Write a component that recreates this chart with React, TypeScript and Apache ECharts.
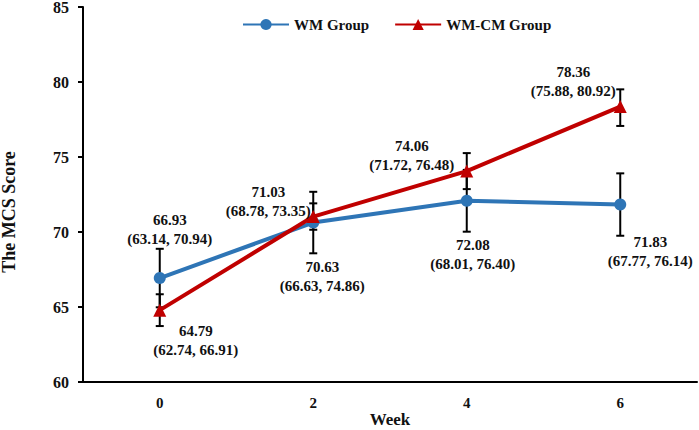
import React, { useEffect, useRef } from "react";
import * as echarts from "echarts";

const weeks = ["0", "2", "4", "6"];
const wmMean = [66.93, 70.63, 72.08, 71.83];
const wmCiLow = [63.14, 66.63, 68.01, 67.77];
const wmCiHigh = [70.94, 74.86, 76.4, 76.14];
const cmMean = [64.79, 71.03, 74.06, 78.36];
const cmCiLow = [62.74, 68.78, 71.72, 75.88];
const cmCiHigh = [66.91, 73.35, 76.48, 80.92];
// error bars as drawn
const wmBarLow = [64.98, 68.58, 70.02, 69.75];
const wmBarHigh = [68.88, 72.68, 74.14, 73.91];
const cmBarLow = [63.73, 70.15, 72.86, 77.07];
const cmBarHigh = [65.85, 71.91, 75.26, 79.51];
const yTicks = { min: 60, max: 85, interval: 5 };

// label placement (layout, not data)
const wmLabelOffsets = [[10, -49], [9, 54], [6, 54], [30, 47]];
const cmLabelOffsets = [[36, 30], [-45, -15], [-55, -16], [-47, -25]];

const FONT = '"Liberation Serif", "Times New Roman", serif';
const BLUE = "#2E75B6";
const RED = "#C00000";

const labelBase = {
  show: true,
  position: "inside",
  color: "#111",
  fontFamily: FONT,
  fontWeight: "bold",
  fontSize: 15,
  lineHeight: 19,
  align: "center",
  verticalAlign: "middle",
  textBorderWidth: 0,
};

function makeData(mean: number[], lo: number[], hi: number[], offs: number[][]) {
  return mean.map((m, i) => ({
    value: m,
    label: {
      ...labelBase,
      offset: offs[i],
      formatter: `${m.toFixed(2)}\n(${lo[i].toFixed(2)}, ${hi[i].toFixed(2)})`,
    },
  }));
}

function errorSeries(lo: number[], hi: number[]) {
  return {
    type: "custom",
    z: 1,
    silent: true,
    data: lo.map((l, i) => [i, l, hi[i]]),
    encode: { x: 0, y: [1, 2] },
    renderItem: (params: any, api: any) => {
      const x = api.value(0);
      const p1 = api.coord([x, api.value(1)]);
      const p2 = api.coord([x, api.value(2)]);
      const w = 4;
      const style = { stroke: "#000", lineWidth: 2 };
      return {
        type: "group",
        children: [
          { type: "line", shape: { x1: p1[0], y1: p1[1], x2: p2[0], y2: p2[1] }, style },
          { type: "line", shape: { x1: p1[0] - w, y1: p1[1], x2: p1[0] + w, y2: p1[1] }, style },
          { type: "line", shape: { x1: p2[0] - w, y1: p2[1], x2: p2[0] + w, y2: p2[1] }, style },
        ],
      };
    },
  };
}

export default function App() {
  const ref = useRef<HTMLDivElement>(null);
  useEffect(() => {
    if (!ref.current) return;
    const chart = echarts.init(ref.current, undefined, { renderer: "svg" });
    chart.setOption({
      animation: false,
      backgroundColor: "#fff",
      grid: { left: 83, right: 2, top: 7, bottom: 48, containLabel: false, outerBoundsMode: "none" },
      legend: {
        data: ["WM Group", "WM-CM Group"],
        left: 237,
        top: 12,
        itemWidth: 46,
        itemHeight: 14,
        itemGap: 25,
        textStyle: { fontFamily: FONT, fontWeight: "bold", fontSize: 15, color: "#111" },
      },
      xAxis: {
        type: "category",
        data: weeks,
        axisLine: { lineStyle: { color: "#000", width: 2 } },
        axisTick: { show: false },
        axisLabel: { margin: 13, fontFamily: FONT, fontWeight: "bold", fontSize: 15, color: "#111" },
        splitLine: { show: false },
      },
      yAxis: {
        type: "value",
        min: yTicks.min,
        max: yTicks.max,
        interval: yTicks.interval,
        axisLine: { show: true, lineStyle: { color: "#000", width: 2 } },
        axisTick: { show: true, length: 5, lineStyle: { color: "#000", width: 2 } },
        axisLabel: { margin: 14, fontFamily: FONT, fontWeight: "bold", fontSize: 16, color: "#111" },
        splitLine: { show: false },
      },
      graphic: [
        {
          type: "text",
          x: 9,
          y: 212,
          rotation: Math.PI / 2,
          style: {
            text: "The MCS Score",
            fontFamily: FONT,
            fontWeight: "bold",
            fontSize: 18,
            fill: "#111",
            align: "center",
            verticalAlign: "middle",
          },
        },
        {
          type: "text",
          x: 390,
          y: 419,
          style: {
            text: "Week",
            fontFamily: FONT,
            fontWeight: "bold",
            fontSize: 17,
            lineHeight: 17,
            fill: "#111",
            align: "center",
            verticalAlign: "middle",
          },
        },
      ],
      series: [
        errorSeries(wmBarLow, wmBarHigh),
        errorSeries(cmBarLow, cmBarHigh),
        {
          name: "WM Group",
          type: "line",
          z: 3,
          symbol: "circle",
          symbolSize: 12,
          itemStyle: { color: BLUE },
          lineStyle: { color: BLUE, width: 4 },
          label: labelBase,
          data: makeData(wmMean, wmCiLow, wmCiHigh, wmLabelOffsets),
        },
        {
          name: "WM-CM Group",
          type: "line",
          z: 4,
          symbol: "triangle",
          symbolSize: 13,
          itemStyle: { color: RED },
          lineStyle: { color: RED, width: 4 },
          label: labelBase,
          data: makeData(cmMean, cmCiLow, cmCiHigh, cmLabelOffsets),
        },
      ],
    });
    return () => chart.dispose();
  }, []);
  return (
    <div
      ref={ref}
      style={{ position: "fixed", left: 0, top: 0, width: 699, height: 430, background: "#fff" }}
    />
  );
}
